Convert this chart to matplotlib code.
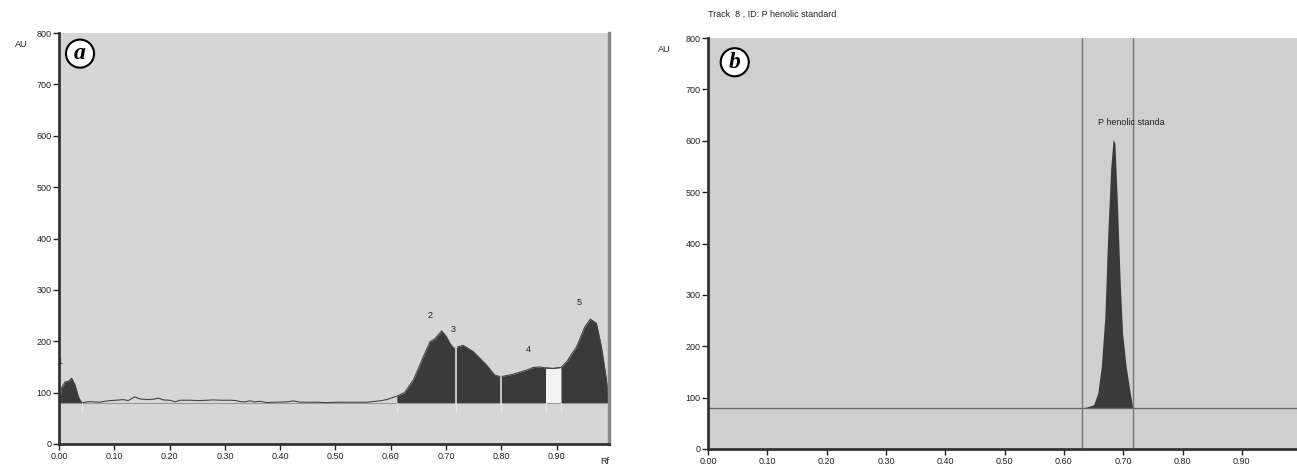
import matplotlib
matplotlib.use("Agg")
import matplotlib.pyplot as plt
import numpy as np

plt.rcParams['font.family'] = ['Liberation Sans', 'DejaVu Sans']

# panel (a): densitogram trace, Rf vs AU
rf_a = [0.000, 0.005, 0.011, 0.017, 0.023, 0.029, 0.035, 0.041,
        0.047, 0.056, 0.065, 0.074, 0.083, 0.092, 0.104, 0.116, 0.125, 0.137,
        0.146, 0.159, 0.171, 0.180, 0.189, 0.201, 0.210, 0.219, 0.237, 0.255,
        0.267, 0.279, 0.294, 0.309, 0.321, 0.327, 0.336, 0.345, 0.354, 0.363,
        0.376, 0.388, 0.412, 0.424, 0.436, 0.448, 0.466, 0.484, 0.508, 0.532,
        0.556, 0.568, 0.580, 0.593, 0.605, 0.611,
        0.625, 0.641, 0.659, 0.671, 0.680, 0.692, 0.700, 0.707, 0.714, 0.718,
        0.731, 0.749, 0.773, 0.788, 0.799, 0.822, 0.846, 0.858, 0.870, 0.880,
        0.894, 0.908, 0.918, 0.936, 0.951, 0.961, 0.972, 0.981, 0.990, 0.994]
au_a = [80, 110, 121, 122, 128, 115, 92, 80,
        81.3, 82.6, 81.9, 81.3, 83.2, 84.5, 85.2, 86.5, 84.5, 91.7,
        87.8, 86.5, 87.2, 89.1, 85.8, 85.2, 82.0, 85.2, 85.2, 84.5,
        85.2, 85.8, 85.2, 85.2, 84.5, 82.6, 81.9, 83.9, 81.9, 83.2,
        80.6, 81.3, 81.9, 83.9, 81.3, 81.3, 81.3, 80.6, 81.3, 81.3,
        81.3, 82.6, 83.9, 86.5, 91.0, 93.0,
        100, 125, 170, 199, 205, 220, 210, 196, 186, 188,
        192, 180, 154, 134, 131, 136, 144, 149, 150, 148,
        147, 149, 160, 189, 228, 243, 235, 189, 125, 86]
# integration windows (filled peaks)
windows_a = [(0.000, 0.041), (0.611, 0.718), (0.718, 0.799), (0.799, 0.880), (0.908, 0.994)]
peak_labels_a = ['1', '2', '3', '4', '5']
label_x_a = [0.002, 0.671, 0.712, 0.848, 0.940]
label_y_a = [160, 251, 222, 183, 276]
baseline_a = 80

# panel (b): phenolic standard
rf_b = [0.630, 0.636, 0.650, 0.657, 0.663, 0.669, 0.674, 0.679, 0.683, 0.686,
        0.690, 0.695, 0.699, 0.705, 0.712, 0.716]
au_b = [80, 81, 86, 108, 160, 257, 420, 549, 603, 595,
        485, 322, 225, 160, 108, 82]
bounds_b = [0.630, 0.716]
baseline_b = 80

xticks = [0.0, 0.1, 0.2, 0.3, 0.4, 0.5, 0.6, 0.7, 0.8, 0.9]
yticks = [0, 100, 200, 300, 400, 500, 600, 700, 800]

fig = plt.figure(figsize=(12.97, 4.68), dpi=100)
ax1 = fig.add_axes([0.0455, 0.0513, 0.424, 0.878])
ax2 = fig.add_axes([0.5459, 0.0406, 0.4541, 0.878])

dark = '#3a3a3a'


def style(ax, bg, xmax):
    ax.set_facecolor(bg)
    ax.set_xlim(0, xmax)
    ax.set_ylim(0, 800)
    ax.set_xticks(xticks)
    ax.set_xticklabels(['%.2f' % t for t in xticks])
    ax.set_yticks(yticks)
    ax.tick_params(labelsize=6.5, length=4, width=1, colors='#222', pad=1.5)
    ax.spines['top'].set_visible(False)
    ax.spines['left'].set_linewidth(2)
    ax.spines['bottom'].set_linewidth(2)
    ax.spines['left'].set_color('#333')
    ax.spines['bottom'].set_color('#333')


style(ax1, '#d6d6d6', 0.9946)
ax1.spines['right'].set_color('#8a8a8a')
ax1.spines['right'].set_linewidth(2.5)

x = np.array(rf_a)
y = np.array(au_a)
ax1.axhline(baseline_a, color='#9a9a9a', lw=0.8)
ax1.plot(x, y, color='#444', lw=0.8)
for lo, hi in windows_a:
    m = (x >= lo - 1e-9) & (x <= hi + 1e-9)
    ax1.fill_between(x[m], baseline_a, y[m], color=dark, lw=0)
edges = sorted(set([w[0] for w in windows_a] + [w[1] for w in windows_a]))
for e in edges:
    ax1.plot([e, e], [baseline_a - 18, baseline_a], color='#e6e6e6', lw=0.8)
for e in [0.718, 0.799]:
    ye = np.interp(e, x, y)
    ax1.plot([e, e], [baseline_a, ye], color='#dcdcdc', lw=1.2)
ax1.fill_between([0.880, 0.908], baseline_a, [148, 148], color='#f2f2f2', lw=0)
ax1.plot(x[(x >= 0.879) & (x <= 0.909)], y[(x >= 0.879) & (x <= 0.909)], color='#444', lw=0.8)
for t, lx, ly in zip(peak_labels_a, label_x_a, label_y_a):
    ax1.text(lx, ly, t, fontsize=6.5, ha='center', va='center', color='#222')

fig.text(0.0116, 0.904, 'AU', fontsize=6.5, color='#222', ha='left', va='center')
fig.text(0.4626, 0.013, 'Rf', fontsize=6.5, color='#222', ha='left', va='center')
ax1.text(0.038, 760, 'a', fontsize=17, fontfamily='Liberation Serif', fontweight='bold',
         fontstyle='italic', ha='center', va='center',
         bbox=dict(boxstyle='circle,pad=0.15', fc='white', ec='black', lw=1.5))

style(ax2, '#cfcfcf', 0.993)
ax2.spines['right'].set_visible(False)
ax2.axhline(baseline_b, color='#666', lw=1)
for b in bounds_b:
    ax2.axvline(b, color='#777', lw=1)
ax2.fill_between(rf_b, baseline_b, au_b, color=dark, lw=0)
ax2.text(0.657, 635, 'P henolic standa', fontsize=6.5, color='#222', ha='left', va='center')
ax2.text(0.045, 753, 'b', fontsize=17, fontfamily='Liberation Serif', fontweight='bold',
         fontstyle='italic', ha='center', va='center',
         bbox=dict(boxstyle='circle,pad=0.15', fc='white', ec='black', lw=1.5))
fig.text(0.5459, 0.970, 'Track  8 , ID: P henolic standard', fontsize=6.5, color='#222',
         ha='left', va='center')
fig.text(0.507, 0.895, 'AU', fontsize=6.5, color='#222', ha='left', va='center')

fig.savefig('out.png', dpi=100)
